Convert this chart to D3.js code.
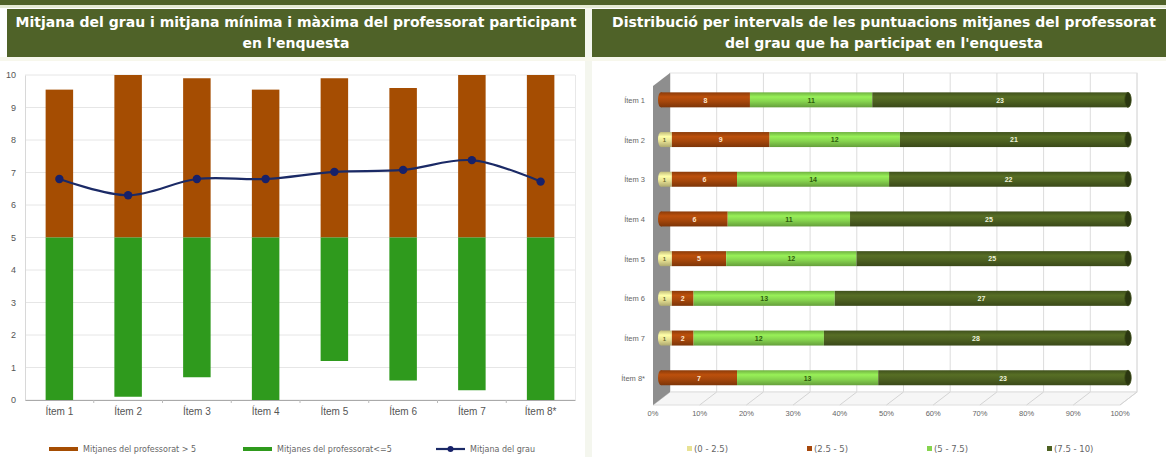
<!DOCTYPE html>
<html><head><meta charset="utf-8">
<script src="https://cdn.jsdelivr.net/npm/d3@7/dist/d3.min.js"></script>
<style>html,body{margin:0;padding:0;background:#fff;}svg{display:block;font-family:"Liberation Sans",Arial,sans-serif;}</style>
</head><body>
<script>
// ---------- data ----------
const categories = ["Ítem 1","Ítem 2","Ítem 3","Ítem 4","Ítem 5","Ítem 6","Ítem 7","Ítem 8*"];
const minValues  = [0, 0.1, 0.7, 0, 1.2, 0.6, 0.3, 0];
const maxValues  = [9.55, 10, 9.9, 9.55, 9.9, 9.6, 10, 10];
const meanValues = [6.8, 6.3, 6.8, 6.8, 7.02, 7.08, 7.38, 6.72];
const yTicks = [0,1,2,3,4,5,6,7,8,9,10];
const threshold = 5;
const leftLegend = ["Mitjanes del professorat > 5","Mitjanes del professorat<=5","Mitjana del grau"];

const intervals = ["(0 - 2.5)","(2.5 - 5)","(5 - 7.5)","(7.5 - 10)"];
const countsA = [0,1,1,0,1,1,1,0];
const countsB = [8,9,6,6,5,2,2,7];
const countsC = [11,12,14,11,12,13,12,13];
const countsD = [23,21,22,25,25,27,28,23];
const pctTicks = [0,0.1,0.2,0.3,0.4,0.5,0.6,0.7,0.8,0.9,1];

const titleLeft = ["Mitjana del grau i mitjana mínima i màxima del professorat participant","en l'enquesta"];
const titleRight = ["Distribució per intervals de les puntuacions mitjanes del professorat","del grau que ha participat en l'enquesta"];

// ---------- setup ----------
const W = 1166, H = 457;
const svg = d3.select("body").append("svg").attr("width", W).attr("height", H);
const defs = svg.append("defs");
const olive = "#4f6228";
const wide = "DejaVu Sans, Verdana, sans-serif";

// header
svg.append("rect").attr("x",0).attr("y",0).attr("width",W).attr("height",5).attr("fill",olive);
svg.append("rect").attr("x",0).attr("y",5).attr("width",W).attr("height",3).attr("fill","#e4ead2");
svg.append("rect").attr("x",7).attr("y",9).attr("width",578).attr("height",48).attr("fill",olive);
svg.append("rect").attr("x",592).attr("y",9).attr("width",574).attr("height",48).attr("fill",olive);
svg.append("rect").attr("x",585).attr("y",8).attr("width",7).attr("height",449).attr("fill","#f4f6ee");
svg.append("rect").attr("x",0).attr("y",57).attr("width",W).attr("height",4).attr("fill","#f7f7ec");

function title(lines, cx){
  const t = svg.append("text").attr("text-anchor","middle").attr("fill","#fff")
    .attr("font-weight","bold").attr("font-size",14).attr("font-family",wide);
  lines.forEach((l,i)=> t.append("tspan").attr("x",cx).attr("y",27+i*21).text(l));
}
title(titleLeft, 296);
title(titleRight, 884);

// ---------- left chart ----------
const x = d3.scaleBand().domain(categories).range([25,575]).paddingInner(0.6).paddingOuter(0.3);
const y = d3.scaleLinear().domain([0,10]).range([400,75]);

const gL = svg.append("g");
gL.append("g").selectAll("line").data(yTicks).join("line")
  .attr("x1",25).attr("x2",575).attr("y1",d=>y(d)).attr("y2",d=>y(d))
  .attr("stroke","#e6e6e6").attr("stroke-width",1);
gL.append("line").attr("x1",575.5).attr("x2",575.5).attr("y1",75).attr("y2",400).attr("stroke","#e8e8e8");

const yAxis = d3.axisLeft(y).tickValues(yTicks).tickSize(0).tickPadding(9);
const ya = gL.append("g").attr("transform","translate(25,0)").call(yAxis);
ya.select(".domain").attr("stroke","#d8d8d8");
ya.selectAll("text").attr("font-size",9).attr("fill","#555").attr("font-family","Liberation Sans, Arial");

const xAxis = d3.axisBottom(x).tickSize(0).tickPadding(8);
const xa = gL.append("g").attr("transform","translate(0,400)").call(xAxis);
xa.select(".domain").attr("stroke","#aaa");
xa.selectAll("text").attr("font-size",10).attr("fill","#555").attr("font-family","Liberation Sans, Arial");
gL.append("g").selectAll("line").data(categories.slice(1)).join("line")
  .attr("x1",d=>x(d)-x.step()*x.paddingInner()/2).attr("x2",d=>x(d)-x.step()*x.paddingInner()/2)
  .attr("y1",400).attr("y2",403).attr("stroke","#bbb");

const brown = "#a54d02", green = "#2f9a1d";
gL.append("g").selectAll("rect").data(categories).join("rect")
  .attr("x",d=>x(d)).attr("width",x.bandwidth())
  .attr("y",(d,i)=>y(maxValues[i])).attr("height",(d,i)=>y(threshold)-y(maxValues[i]))
  .attr("fill",brown);
gL.append("g").selectAll("rect").data(categories).join("rect")
  .attr("x",d=>x(d)).attr("width",x.bandwidth())
  .attr("y",y(threshold)).attr("height",(d,i)=>y(minValues[i])-y(threshold))
  .attr("fill",green);

const line = d3.line().x((d,i)=>x(categories[i])+x.bandwidth()/2).y(d=>y(d)).curve(d3.curveCatmullRom.alpha(0.5));
gL.append("path").datum(meanValues).attr("d",line).attr("fill","none").attr("stroke","#1b2a66").attr("stroke-width",2.2);
gL.append("g").selectAll("circle").data(meanValues).join("circle")
  .attr("cx",(d,i)=>x(categories[i])+x.bandwidth()/2).attr("cy",d=>y(d)).attr("r",4.2).attr("fill","#17216a");

// left legend
const legL = gL.append("g").attr("font-size",8).attr("fill","#666").attr("font-family",wide);
const legLX = [49, 243, 436];
[brown, green].forEach((c,i)=>{
  legL.append("line").attr("x1",legLX[i]).attr("x2",legLX[i]+29).attr("y1",449).attr("y2",449).attr("stroke",c).attr("stroke-width",4);
});
legL.append("line").attr("x1",legLX[2]).attr("x2",legLX[2]+29).attr("y1",449).attr("y2",449).attr("stroke","#1b2a66").attr("stroke-width",2.2);
legL.append("circle").attr("cx",legLX[2]+14.5).attr("cy",449).attr("r",3).attr("fill","#17216a");
leftLegend.forEach((t,i)=> legL.append("text").attr("x",legLX[i]+34).attr("y",452).text(t));

// ---------- right chart (3D style percent stacked cylinders) ----------
const gR = svg.append("g");
const backX = d3.scaleLinear().domain([0,1]).range([670,1137]);
const depth = 17, wallTop = 73, floorY = 392;
const xb = d3.scaleLinear().domain([0,1]).range([661,1128]);
const yb = d3.scaleBand().domain(categories).range([80,397.6]).paddingInner(0.622).paddingOuter(0.311);

gR.append("rect").attr("x",670).attr("y",wallTop).attr("width",467).attr("height",floorY-wallTop).attr("fill","#fff").attr("stroke","#e4e4e4");
gR.append("g").selectAll("line").data(pctTicks).join("line")
  .attr("x1",d=>backX(d)).attr("x2",d=>backX(d)).attr("y1",wallTop).attr("y2",floorY)
  .attr("stroke","#dcdcdc");
gR.append("path").attr("d",`M670,${floorY}L1137,${floorY}L${1137-depth},${floorY+13}L${670-depth},${floorY+13}Z`)
  .attr("fill","#f6f6f6").attr("stroke","#dedede");
gR.append("g").selectAll("line").data(pctTicks).join("line")
  .attr("x1",d=>backX(d)).attr("x2",d=>backX(d)-depth).attr("y1",floorY).attr("y2",floorY+13)
  .attr("stroke","#d4d4d4");
gR.append("path").attr("d",`M670,${wallTop}L${670-depth},${wallTop+13}L${670-depth},${floorY+13}L670,${floorY}Z`)
  .attr("fill","#8e8e8e");

gR.append("g").selectAll("text").data(pctTicks).join("text")
  .attr("x",d=>backX(d)-depth).attr("y",416).attr("text-anchor","middle")
  .attr("font-size",7.5).attr("fill","#666").text(d=>d3.format(".0%")(d));
gR.append("g").selectAll("text").data(categories).join("text")
  .attr("x",645).attr("y",d=>yb(d)+yb.bandwidth()/2+3).attr("text-anchor","end")
  .attr("font-size",7.5).attr("fill","#666").text(d=>d);

const segColors = ["#e8e294","#a6470b","#86d44e","#4d6121"];
const labelColors = ["#6b6b30","#ffe6cc","#2d5c0c","#eef3dc"];
segColors.forEach((c,i)=>{
  const gr = defs.append("linearGradient").attr("id","cg"+i).attr("x1",0).attr("x2",0).attr("y1",0).attr("y2",1);
  gr.append("stop").attr("offset","0%").attr("stop-color",d3.color(c).darker(0.5));
  gr.append("stop").attr("offset","30%").attr("stop-color",d3.color(c).brighter(0.35));
  gr.append("stop").attr("offset","60%").attr("stop-color",c);
  gr.append("stop").attr("offset","100%").attr("stop-color",d3.color(c).darker(0.8));
});

const rows = categories.map((c,i)=>({cat:c, vals:[countsA[i],countsB[i],countsC[i],countsD[i]]}));
const stack = d3.stack().keys([0,1,2,3]).value((d,k)=>d.vals[k]).offset(d3.stackOffsetExpand);
const series = stack(rows);

const bars = gR.append("g");
rows.forEach((r,ri)=>{
  const yy = yb(r.cat), bh = yb.bandwidth();
  const first = series.findIndex(s=> r.vals[s.key]>0);
  bars.append("ellipse").attr("cx",xb(0)).attr("cy",yy+bh/2).attr("rx",3).attr("ry",bh/2)
    .attr("fill",`url(#cg${first})`);
  series.forEach(s=>{
    const d = s[ri];
    if (r.vals[s.key] <= 0) return;
    bars.append("rect").attr("x",xb(d[0])).attr("y",yy).attr("width",xb(d[1])-xb(d[0])).attr("height",bh)
      .attr("fill",`url(#cg${s.key})`);
  });
  bars.append("ellipse").attr("cx",xb(1)).attr("cy",yy+bh/2).attr("rx",3.2).attr("ry",bh/2)
    .attr("fill","#2a3610").attr("stroke","#3c4c18").attr("stroke-width",0.8);
  series.forEach(s=>{
    const d = s[ri];
    if (r.vals[s.key] <= 0) return;
    bars.append("text").attr("x",(xb(d[0])+xb(d[1]))/2 + (s.key===0?-2:0)).attr("y",yy+bh/2+2.8)
      .attr("text-anchor","middle").attr("font-size",s.key===0?6:7).attr("font-weight","bold")
      .attr("fill",labelColors[s.key]).text(r.vals[s.key]);
  });
});

const legR = gR.append("g");
const legRX = [689, 809, 929, 1049];
intervals.forEach((t,i)=>{
  legR.append("rect").attr("x",legRX[i]-2).attr("y",446).attr("width",5).attr("height",5).attr("fill",segColors[i]);
  legR.append("text").attr("x",legRX[i]+5).attr("y",452).attr("font-size",8.5).attr("font-family",wide).attr("fill","#666").text(t);
});
</script>
</body></html>
